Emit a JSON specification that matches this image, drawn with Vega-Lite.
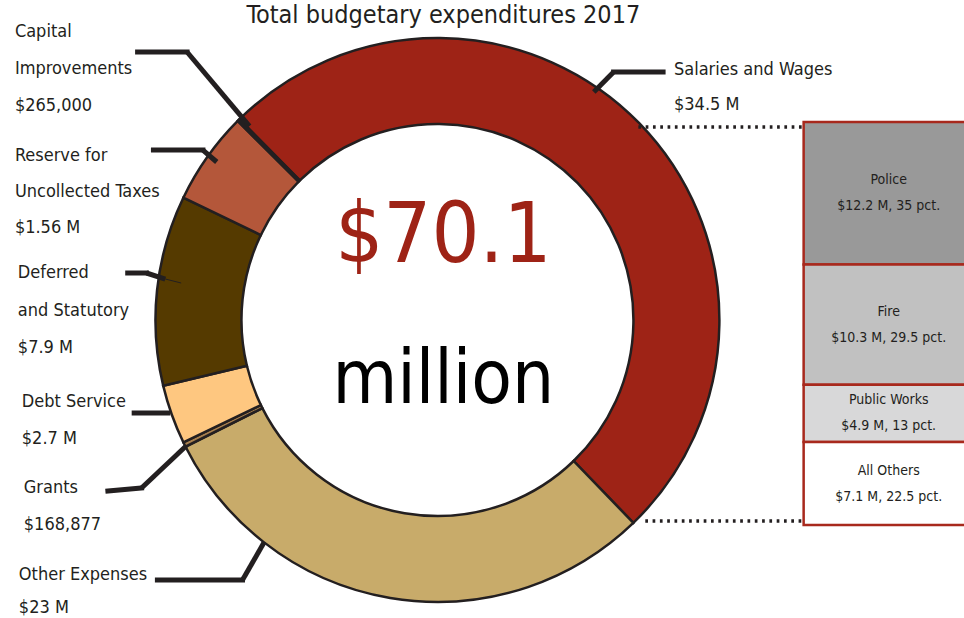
{
  "$schema": "https://vega.github.io/schema/vega-lite/v6.json",
  "width": 964,
  "height": 618,
  "autosize": {"type": "none"},
  "padding": 0,
  "background": "white",
  "config": {
    "view": {"stroke": null},
    "axis": {"disable": true},
    "text": {"font": "Liberation Sans Narrow, DejaVu Sans Condensed, sans-serif", "color": "#231f20"}
  },
  "datasets": {
    "segments": [
      {"idx": 1, "name": "Salaries and Wages", "drawnDeg": 180.6, "label": "Salaries and Wages\n$34.5 M"},
      {"idx": 2, "name": "Other Expenses", "drawnDeg": 107.3, "label": "Other Expenses\n$23 M"},
      {"idx": 3, "name": "Grants", "drawnDeg": 1.0, "label": "Grants\n$168,877"},
      {"idx": 4, "name": "Debt Service", "drawnDeg": 12.2, "label": "Debt Service\n$2.7 M"},
      {"idx": 5, "name": "Deferred and Statutory", "drawnDeg": 39.2, "label": "Deferred\nand Statutory\n$7.9 M"},
      {"idx": 6, "name": "Reserve for Uncollected Taxes", "drawnDeg": 19.2, "label": "Reserve for\nUncollected Taxes\n$1.56 M"},
      {"idx": 7, "name": "Capital Improvements", "drawnDeg": 0.5, "label": "Capital\nImprovements\n$265,000"}
    ],
    "breakdown": [
      {"dept": "Police", "amount": 12.2, "rank": 4, "text": "Police\n$12.2 M, 35 pct."},
      {"dept": "Fire", "amount": 10.3, "rank": 3, "text": "Fire\n$10.3 M, 29.5 pct."},
      {"dept": "Public Works", "amount": 4.9, "rank": 2, "text": "Public Works\n$4.9 M, 13 pct."},
      {"dept": "All Others", "amount": 7.1, "rank": 1, "text": "All Others\n$7.1 M, 22.5 pct."}
    ],
    "one": [{}]
  },
  "layer": [
    {
      "layer": [
        {
          "data": {"name": "segments"},
          "mark": {"type": "arc", "radius": 282, "radius2": 196, "stroke": "#231f20", "strokeWidth": 2.5},
          "encoding": {
            "theta": {"field": "drawnDeg", "type": "quantitative", "stack": true, "scale": {"range": [-0.7784, 5.5048]}},
            "order": {"field": "idx", "type": "quantitative"},
            "color": {
              "field": "name", "type": "nominal", "legend": null,
              "scale": {
                "domain": ["Salaries and Wages", "Other Expenses", "Grants", "Debt Service", "Deferred and Statutory", "Reserve for Uncollected Taxes", "Capital Improvements"],
                "range": ["#9e2316", "#c8ab6a", "#a9804e", "#fec780", "#553a00", "#b4573a", "#c0603a"]
              }
            },
            "x": {"datum": 0, "type": "quantitative", "scale": {"domain": [-1.5496, 1.8688], "nice": false, "zero": false}},
            "y": {"datum": 0, "type": "quantitative", "scale": {"domain": [-1.0567, 1.1348], "nice": false, "zero": false}}
          }
        },
        {
          "data": {"name": "one"},
          "mark": {"type": "text", "align": "center", "baseline": "alphabetic", "fontSize": 25},
          "encoding": {"text": {"value": "Total budgetary expenditures 2017"}, "x": {"datum": 0.0213}, "y": {"datum": 1.0532}}
        },
        {
          "data": {"name": "one"},
          "mark": {"type": "text", "align": "center", "baseline": "alphabetic", "fontSize": 84, "color": "#9e2316"},
          "encoding": {"text": {"value": "$70.1"}, "x": {"datum": 0.0213}, "y": {"datum": 0.2057}}
        },
        {
          "data": {"name": "one"},
          "mark": {"type": "text", "align": "center", "baseline": "alphabetic", "fontSize": 74, "color": "#000000"},
          "encoding": {"text": {"value": "million"}, "x": {"datum": 0.0213}, "y": {"datum": -0.2943}}
        },
        {
          "data": {"name": "segments"}, "transform": [{"filter": "datum.idx === 7"}],
          "mark": {"type": "text", "align": "left", "baseline": "alphabetic", "lineBreak": "\n", "fontSize": 18, "lineHeight": 37},
          "encoding": {"text": {"field": "label"}, "x": {"datum": -1.5142}, "y": {"datum": 1.0035}}
        },
        {
          "data": {"name": "segments"}, "transform": [{"filter": "datum.idx === 6"}],
          "mark": {"type": "text", "align": "left", "baseline": "alphabetic", "lineBreak": "\n", "fontSize": 18, "lineHeight": 36},
          "encoding": {"text": {"field": "label"}, "x": {"datum": -1.5142}, "y": {"datum": 0.5638}}
        },
        {
          "data": {"name": "segments"}, "transform": [{"filter": "datum.idx === 5"}],
          "mark": {"type": "text", "align": "left", "baseline": "alphabetic", "lineBreak": "\n", "fontSize": 18, "lineHeight": 37.5},
          "encoding": {"text": {"field": "label"}, "x": {"datum": -1.5035}, "y": {"datum": 0.1489}}
        },
        {
          "data": {"name": "segments"}, "transform": [{"filter": "datum.idx === 4"}],
          "mark": {"type": "text", "align": "left", "baseline": "alphabetic", "lineBreak": "\n", "fontSize": 18, "lineHeight": 37},
          "encoding": {"text": {"field": "label"}, "x": {"datum": -1.4894}, "y": {"datum": -0.3085}}
        },
        {
          "data": {"name": "segments"}, "transform": [{"filter": "datum.idx === 3"}],
          "mark": {"type": "text", "align": "left", "baseline": "alphabetic", "lineBreak": "\n", "fontSize": 18, "lineHeight": 37},
          "encoding": {"text": {"field": "label"}, "x": {"datum": -1.4823}, "y": {"datum": -0.6135}}
        },
        {
          "data": {"name": "segments"}, "transform": [{"filter": "datum.idx === 2"}],
          "mark": {"type": "text", "align": "left", "baseline": "alphabetic", "lineBreak": "\n", "fontSize": 18, "lineHeight": 33},
          "encoding": {"text": {"field": "label"}, "x": {"datum": -1.5}, "y": {"datum": -0.922}}
        },
        {
          "data": {"name": "segments"}, "transform": [{"filter": "datum.idx === 1"}],
          "mark": {"type": "text", "align": "left", "baseline": "alphabetic", "lineBreak": "\n", "fontSize": 18, "lineHeight": 35},
          "encoding": {"text": {"field": "label"}, "x": {"datum": 0.8475}, "y": {"datum": 0.8688}}
        },
        {
          "data": {"name": "one"},
          "mark": {"type": "rule", "strokeWidth": 5, "color": "#231f20", "strokeCap": "square"},
          "encoding": {"x": {"datum": -1.0745}, "y": {"datum": 0.9504}, "x2": {"datum": -0.8972}, "y2": {"datum": 0.9504}}
        },
        {
          "data": {"name": "one"},
          "mark": {"type": "rule", "strokeWidth": 5, "color": "#231f20"},
          "encoding": {"x": {"datum": -0.8972}, "y": {"datum": 0.9504}, "x2": {"datum": -0.6738}, "y2": {"datum": 0.6879}}
        },
        {
          "data": {"name": "one"},
          "mark": {"type": "rule", "strokeWidth": 5, "color": "#231f20", "strokeCap": "square"},
          "encoding": {"x": {"datum": -1.0177}, "y": {"datum": 0.6028}, "x2": {"datum": -0.8404}, "y2": {"datum": 0.6028}}
        },
        {
          "data": {"name": "one"},
          "mark": {"type": "rule", "strokeWidth": 5, "color": "#231f20"},
          "encoding": {"x": {"datum": -0.8404}, "y": {"datum": 0.6028}, "x2": {"datum": -0.7908}, "y2": {"datum": 0.5603}}
        },
        {
          "data": {"name": "one"},
          "mark": {"type": "rule", "strokeWidth": 5, "color": "#231f20", "strokeCap": "square"},
          "encoding": {"x": {"datum": -1.1099}, "y": {"datum": 0.1667}, "x2": {"datum": -1.0426}, "y2": {"datum": 0.1667}}
        },
        {
          "data": {"name": "one"},
          "mark": {"type": "rule", "strokeWidth": 5, "color": "#231f20"},
          "encoding": {"x": {"datum": -1.0426}, "y": {"datum": 0.1667}, "x2": {"datum": -0.9752}, "y2": {"datum": 0.1454}}
        },
        {
          "data": {"name": "one"},
          "mark": {"type": "rule", "strokeWidth": 1, "color": "#231f20"},
          "encoding": {"x": {"datum": -0.9752}, "y": {"datum": 0.1454}, "x2": {"datum": -0.9184}, "y2": {"datum": 0.1312}}
        },
        {
          "data": {"name": "one"},
          "mark": {"type": "rule", "strokeWidth": 5, "color": "#231f20"},
          "encoding": {"x": {"datum": -1.0957}, "y": {"datum": -0.3298}, "x2": {"datum": -0.9574}, "y2": {"datum": -0.3298}}
        },
        {
          "data": {"name": "one"},
          "mark": {"type": "rule", "strokeWidth": 5, "color": "#231f20", "strokeCap": "square"},
          "encoding": {"x": {"datum": -1.1809}, "y": {"datum": -0.6064}, "x2": {"datum": -1.0603}, "y2": {"datum": -0.5957}}
        },
        {
          "data": {"name": "one"},
          "mark": {"type": "rule", "strokeWidth": 5, "color": "#231f20"},
          "encoding": {"x": {"datum": -1.0603}, "y": {"datum": -0.5957}, "x2": {"datum": -0.9007}, "y2": {"datum": -0.4468}}
        },
        {
          "data": {"name": "one"},
          "mark": {"type": "rule", "strokeWidth": 5, "color": "#231f20", "strokeCap": "square"},
          "encoding": {"x": {"datum": -1.0035}, "y": {"datum": -0.922}, "x2": {"datum": -0.6986}, "y2": {"datum": -0.922}}
        },
        {
          "data": {"name": "one"},
          "mark": {"type": "rule", "strokeWidth": 5, "color": "#231f20"},
          "encoding": {"x": {"datum": -0.6986}, "y": {"datum": -0.922}, "x2": {"datum": -0.6206}, "y2": {"datum": -0.7872}}
        },
        {
          "data": {"name": "one"},
          "mark": {"type": "rule", "strokeWidth": 5, "color": "#231f20"},
          "encoding": {"x": {"datum": 0.5603}, "y": {"datum": 0.8085}, "x2": {"datum": 0.6312}, "y2": {"datum": 0.8794}}
        },
        {
          "data": {"name": "one"},
          "mark": {"type": "rule", "strokeWidth": 5, "color": "#231f20", "strokeCap": "square"},
          "encoding": {"x": {"datum": 0.6312}, "y": {"datum": 0.8794}, "x2": {"datum": 0.8085}, "y2": {"datum": 0.8794}}
        },
        {
          "data": {"name": "one"},
          "mark": {"type": "rule", "strokeWidth": 3.5, "color": "#231f20", "strokeDash": [2.7, 4.6]},
          "encoding": {"x": {"datum": 0.7199}, "y": {"datum": 0.6844}, "x2": {"datum": 1.3121}, "y2": {"datum": 0.6844}}
        },
        {
          "data": {"name": "one"},
          "mark": {"type": "rule", "strokeWidth": 3.5, "color": "#231f20", "strokeDash": [2.7, 4.6]},
          "encoding": {"x": {"datum": 0.7447}, "y": {"datum": -0.7128}, "x2": {"datum": 1.3121}, "y2": {"datum": -0.7128}}
        }
      ]
    },
    {
      "data": {"name": "breakdown"},
      "layer": [
        {
          "mark": {"type": "bar", "orient": "vertical", "stroke": "#a8291d", "strokeWidth": 2.5},
          "encoding": {
            "x": {"datum": 1.3121},
            "x2": {"datum": 2.0},
            "y": {"field": "amount", "type": "quantitative", "stack": "zero", "scale": {"domain": [-7.962, 44.944], "nice": false, "zero": false}},
            "order": {"field": "rank", "type": "quantitative"},
            "color": {
              "field": "dept", "type": "nominal", "legend": null,
              "scale": {"domain": ["Police", "Fire", "Public Works", "All Others"], "range": ["#999999", "#c1c1c1", "#d8d8d9", "#ffffff"]}
            }
          }
        },
        {
          "mark": {"type": "text", "align": "center", "baseline": "middle", "lineBreak": "\n", "fontSize": 14, "lineHeight": 26, "dy": -13},
          "encoding": {
            "x": {"datum": 1.617},
            "y": {"field": "amount", "type": "quantitative", "stack": "zero", "bandPosition": 0.5},
            "order": {"field": "rank", "type": "quantitative"},
            "detail": {"field": "dept", "type": "nominal"},
            "text": {"field": "text"}
          }
        }
      ]
    }
  ],
  "resolve": {"scale": {"y": "independent", "color": "independent"}}
}
